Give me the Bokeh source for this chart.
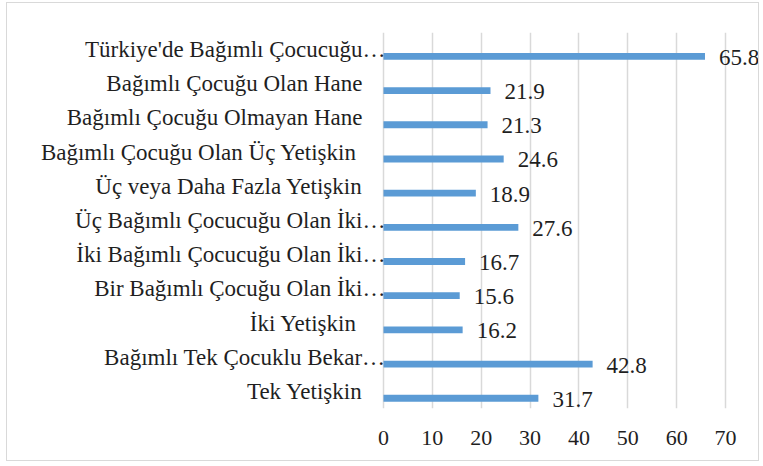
from bokeh.plotting import figure
from bokeh.models import ColumnDataSource, FactorRange, FixedTicker
from bokeh.core.properties import value
from bokeh.transform import dodge
from bokeh.embed import file_html
from bokeh.resources import INLINE

categories = [
    "Türkiye'de Bağımlı Çocucuğu…",
    "Bağımlı Çocuğu Olan Hane",
    "Bağımlı Çocuğu Olmayan Hane",
    "Bağımlı Çocuğu Olan Üç Yetişkin ",
    "Üç veya Daha Fazla Yetişkin",
    "Üç Bağımlı Çocucuğu Olan İki…",
    "İki Bağımlı Çocucuğu Olan İki…",
    "Bir Bağımlı Çocuğu Olan İki…",
    "İki Yetişkin ",
    "Bağımlı Tek Çocuklu Bekar…",
    "Tek Yetişkin",
]
values = [65.8, 21.9, 21.3, 24.6, 18.9, 27.6, 16.7, 15.6, 16.2, 42.8, 31.7]
x_ticks = [0, 10, 20, 30, 40, 50, 60, 70]

FONT = "Liberation Serif"
TXT = "#1f1f1f"
BAR = "#5B9BD5"
GRID = "#d9d9d9"

source = ColumnDataSource(dict(
    cat=categories,
    val=values,
    vtxt=[f"{v:.1f}" for v in values],
    zero=[0] * len(values),
    loff=[2 if c.endswith("…") else -21 for c in categories],
))

p = figure(
    width=753, height=459,
    y_range=FactorRange(factors=list(reversed(categories))),
    x_range=(-76.95, 77.16),
    output_backend="svg", toolbar_location=None,
    min_border_left=0, min_border_right=0,
    min_border_top=29, min_border_bottom=54,
)
p.styles = {"border": "1px solid #d9d9d9", "margin-left": "6px", "margin-top": "2px"}

p.hbar(y=dodge("cat", -0.2, range=p.y_range), right="val", left=0, height=0.2,
       source=source, fill_color=BAR, line_color=None)

p.text(x="val", y=dodge("cat", -0.23, range=p.y_range), text="vtxt",
       x_offset=14, source=source, text_font=value(FONT), text_font_size="23px",
       text_color=TXT, text_baseline="middle", text_align="left")

p.text(x="zero", y="cat", text="cat", x_offset="loff", source=source,
       text_font=value(FONT), text_font_size="23px", text_color=TXT,
       text_baseline="middle", text_align="right")

p.yaxis.visible = False
p.ygrid.grid_line_color = None
p.xgrid.ticker = FixedTicker(ticks=x_ticks)
p.xgrid.grid_line_color = GRID
p.xgrid.grid_line_width = 1.5
p.xaxis.ticker = FixedTicker(ticks=x_ticks)
p.xaxis.axis_line_color = None
p.xaxis.major_tick_line_color = None
p.xaxis.minor_tick_line_color = None
p.xaxis.major_label_text_font = FONT
p.xaxis.major_label_text_font_size = "22px"
p.xaxis.major_label_text_color = TXT
p.xaxis.major_label_standoff = 16
p.outline_line_color = None

open("out.html", "w").write(file_html(p, INLINE))
